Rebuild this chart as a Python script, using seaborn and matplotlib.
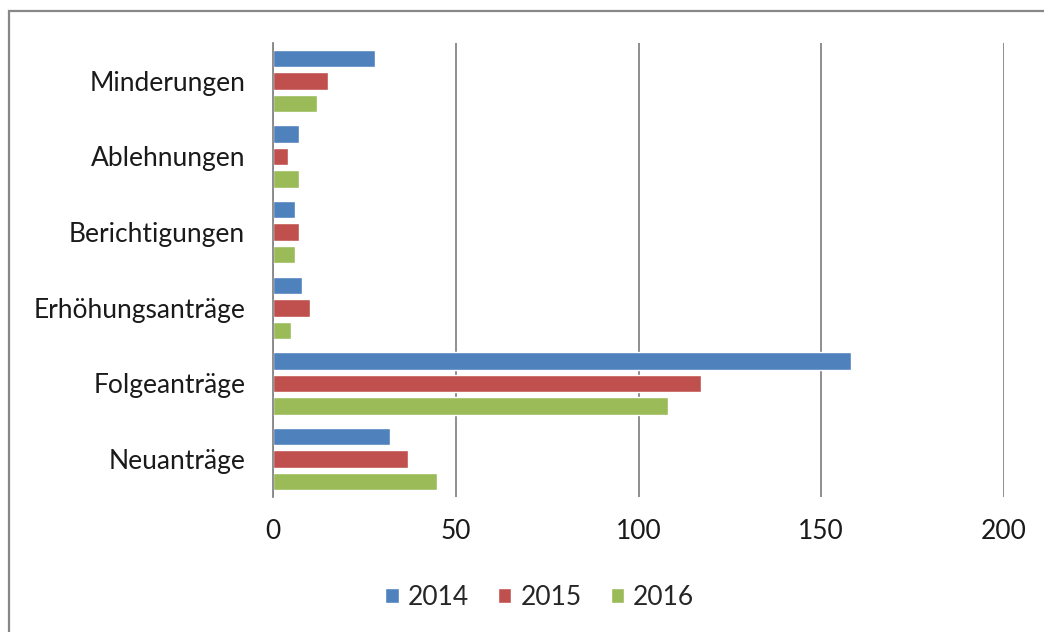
import pandas as pd
import matplotlib
matplotlib.use("Agg")
import matplotlib.pyplot as plt
import seaborn as sns
from matplotlib.patches import Rectangle

# data
categories = ["Minderungen", "Ablehnungen", "Berichtigungen", "Erhöhungsanträge", "Folgeanträge", "Neuanträge"]
years = ["2014", "2015", "2016"]
v2014 = [28, 7, 6, 8, 158, 32]
v2015 = [15, 4, 7, 10, 117, 37]
v2016 = [12, 7, 6, 5, 108, 45]
xticks = [0, 50, 100, 150, 200]

df = pd.DataFrame({
    "Kategorie": categories * 3,
    "Jahr": [y for y in years for _ in categories],
    "Anzahl": v2014 + v2015 + v2016,
})

sns.set_theme(style="white")
plt.rcParams["font.family"] = ["Lato", "DejaVu Sans"]

fig = plt.figure(figsize=(10.44, 6.32), dpi=100)
ax = fig.add_axes([0.2615, 0.2136, 0.7002, 0.7184])

sns.barplot(data=df, y="Kategorie", x="Anzahl", hue="Jahr", order=categories,
            hue_order=years, palette=["#4F81BD", "#C0504D", "#9BBB59"], saturation=1,
            width=0.89, gap=0.22, orient="h", ax=ax, legend=True)

ax.set_xlim(0, 200)
ax.set_xticks(xticks)
ax.xaxis.grid(True, color="#868686", linewidth=1.3)
ax.set_axisbelow(True)
ax.set_xlabel("")
ax.set_ylabel("")
for s in ["top", "right", "bottom"]:
    ax.spines[s].set_visible(False)
ax.spines["left"].set_color("#868686")
ax.spines["left"].set_linewidth(1.3)
ax.tick_params(axis="x", length=0, pad=16, labelsize=19, colors="#1a1a1a")
ax.tick_params(axis="y", length=0, pad=20, labelsize=19, colors="#1a1a1a")

handles, labels = ax.get_legend_handles_labels()
ax.get_legend().remove()
fig.legend(handles, labels, loc="center", bbox_to_anchor=(0.517, 0.055), ncol=3,
           frameon=False, fontsize=19, handlelength=0.5, handleheight=0.5,
           handletextpad=0.35, columnspacing=1.1)

# chart area frame
fig.patches.append(Rectangle((9 / 1044, -0.1), 2, 1.1 - 11 / 632, transform=fig.transFigure,
                             fill=False, edgecolor="#878787", linewidth=1.6))

fig.savefig("out.png", dpi=100)
